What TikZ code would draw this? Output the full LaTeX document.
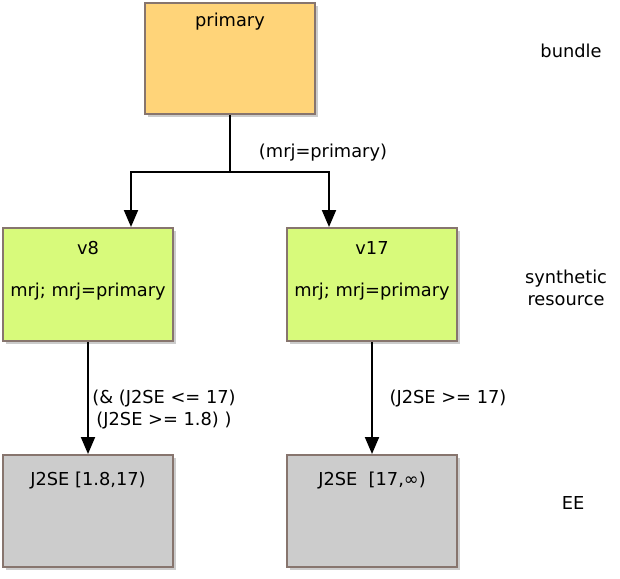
\documentclass[tikz,border=0pt]{standalone}
\usepackage{fontspec}
\setmainfont{DejaVu Sans}
\usetikzlibrary{arrows.meta,shadows,positioning}
\definecolor{bundlefill}{RGB}{255,212,121}
\definecolor{synthfill}{RGB}{216,250,123}
\definecolor{eefill}{RGB}{204,204,204}
\definecolor{boxline}{RGB}{135,117,110}

\begin{document}
\begin{tikzpicture}
  [x=1pt,y=-1pt,font=\fontsize{17.8}{22}\selectfont,
   box/.style={draw=boxline,line width=2pt,minimum width=170pt,minimum height=112pt,inner sep=0pt,
     drop shadow={shadow xshift=3pt,shadow yshift=-3pt,opacity=.4}},
   boxtext/.style={inner sep=0pt,anchor=base},
   link/.style={line width=2pt,-{Triangle[length=17pt,width=14pt]}}]
  \useasboundingbox (0,0) rectangle (620,578);
  % boxes
  \node[box,fill=bundlefill,minimum height=111pt] (primary) at (230,58.5) {};
  \node[box,fill=synthfill,minimum height=113pt] (v8) at (88,284.5) {};
  \node[box,fill=synthfill,minimum height=113pt] (v17) at (372,284.5) {};
  \node[box,fill=eefill] (ee8) at (88,511) {};
  \node[box,fill=eefill] (ee17) at (372,511) {};
  % box texts
  \node[boxtext] (primary-name) at ([yshift=-25pt]primary.north) {primary};
  \node[boxtext] (v8-name) at ([yshift=-27pt]v8.north) {v8};
  \node[boxtext] (v8-caps) at ([yshift=-69pt]v8.north) {mrj; mrj=primary};
  \node[boxtext] (v17-name) at ([yshift=-27pt]v17.north) {v17};
  \node[boxtext] (v17-caps) at ([yshift=-69pt]v17.north) {mrj; mrj=primary};
  \node[boxtext] (ee8-name) at ([yshift=-31pt]ee8.north) {J2SE [1.8,17)};
  \node[boxtext] (ee17-name) at ([yshift=-31pt]ee17.north) {J2SE\ \ [17,∞)};
  % layer names
  \node[boxtext] (bundle) at (571,57) {bundle};
  \node[inner sep=0pt,align=center] (synthetic) at (566,288) {synthetic\\resource};
  \node[boxtext] (ee) at (573,509) {EE};
  % connectors
  \coordinate (split) at (230,172);
  \draw[line width=2pt] (primary.south) -- (split);
  \draw[link] (split) -| ([xshift=43pt]v8.north);
  \draw[link] (split) -| ([xshift=-43pt]v17.north);
  \draw[link] (v8) -- (ee8);
  \draw[link] (v17) -- (ee17);
  % requirement labels
  \node[boxtext] (req-primary) at (323,157) {(mrj=primary)};
  \node[inner sep=0pt,align=center] (req-v8) at (164,410) {(\& (J2SE <= 17)\\(J2SE >= 1.8) )};
  \node[boxtext] (req-v17) at (448,403) {(J2SE >= 17)};
\end{tikzpicture}
\end{document}
